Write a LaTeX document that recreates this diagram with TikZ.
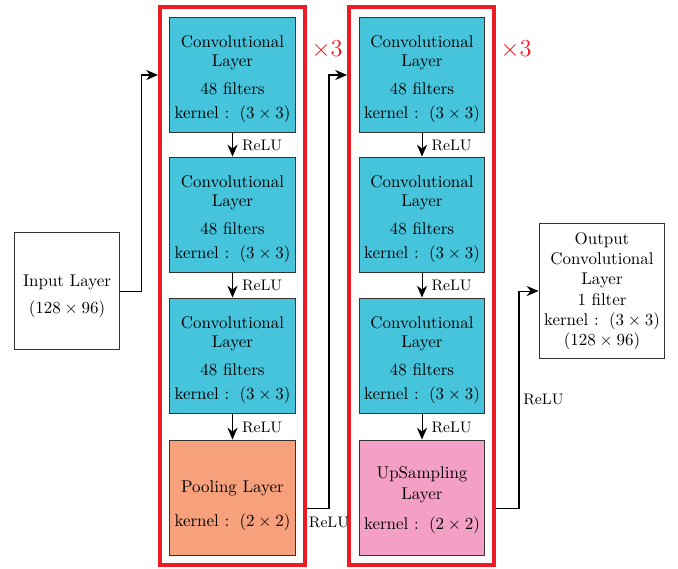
\documentclass[tikz,border=0pt]{standalone}
\usetikzlibrary{arrows.meta}
\definecolor{convc}{RGB}{69,196,219}
\definecolor{poolc}{RGB}{246,160,124}
\definecolor{upc}{RGB}{244,160,198}
\definecolor{redc}{RGB}{237,28,36}
\tikzset{
  layer/.style={draw=black!80, line width=0.6pt, align=center, inner sep=0pt,
    minimum width=73.8pt, minimum height=68.4pt},
  conv/.style={layer, fill=convc},
  pool/.style={layer, fill=poolc},
  ups/.style={layer, fill=upc},
  plain/.style={draw=black!80, line width=0.6pt, align=center, inner sep=0pt, fill=white},
  group/.style={draw=redc, line width=2.4pt, minimum width=85.5pt, minimum height=329pt, inner sep=0pt},
  arr/.style={-{Stealth[length=7pt,width=6pt]}, line width=0.6pt},
  lab/.style={font=\small},
  times/.style={text=redc, font=\Large}
}
\newcommand{\convtext}{\rule{0pt}{12pt}Convolutional\\[-0.8pt]Layer\\[4.8pt]48 filters\\[2.2pt]kernel : \,$(3\times 3)$}
\begin{document}
\begin{tikzpicture}[x=0.59pt,y=-0.59pt]
\useasboundingbox (0,0) rectangle (678,568);
% groups
\node[group] (r1) at (232.5,286) {};
\node[group] (r2) at (421.5,286) {};
% column 1
\node[conv] (c11) at (232.5,75) {\convtext};
\node[conv] (c12) at (232.5,215) {\convtext};
\node[conv] (c13) at (232.5,356) {\convtext};
\node[pool] (p1) at (232.5,498) {\rule{0pt}{16pt}Pooling Layer\\[8pt]kernel : \,$(2\times 2)$};
% column 2
\node[conv] (c21) at (422,75) {\convtext};
\node[conv] (c22) at (422,215) {\convtext};
\node[conv] (c23) at (422,356) {\convtext};
\node[ups] (u2) at (422,498) {\rule{0pt}{10pt}UpSampling\\Layer\\[6pt]kernel : \,$(2\times 2)$};
% input / output
\node[plain, minimum width=62.5pt, minimum height=69pt] (in) at (67,291) {\rule{0pt}{13pt}Input Layer\\[4pt]$(128\times 96)$};
\node[plain, minimum width=74.3pt, minimum height=80.2pt] (out) at (602,291)
  {Output\\Convolutional\\Layer\\1 filter\\kernel : \,$(3\times 3)$\\$(128\times 96)$};
% x3 labels
\node[times] (t1) at (327,50) {$\times 3$};
\node[times] (t2) at (516,50) {$\times 3$};
% vertical arrows
\foreach \a/\b in {c11/c12,c12/c13,c13/p1,c21/c22,c22/c23,c23/u2}{
  \draw[arr] (\a.south) -- node[lab, right, xshift=2pt]{ReLU} (\b.north);
}
% connectors
\coordinate (pj) at ([yshift=-10*0.59pt]p1.center);
\coordinate (uj) at ([yshift=-10*0.59pt]u2.center);
\draw[arr] (in.east) -- ++(21,0) |- (r1.west |- c11.center);
\draw[arr] (r1.east |- pj) -- ++(22,0) node[lab, below, yshift=-2pt]{ReLU} |- (r2.west |- c21.center);
\draw[arr] (r2.east |- uj) -- ++(23,0) |- node[lab, pos=0.25, right, xshift=-1pt]{ReLU} (out.west);
\end{tikzpicture}
\end{document}
